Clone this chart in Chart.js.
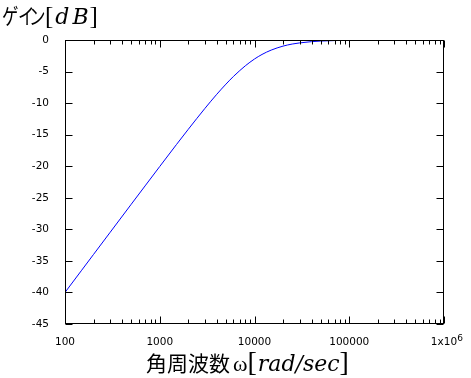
<!DOCTYPE html>
<html><head><meta charset="utf-8">
<script src="https://cdn.jsdelivr.net/npm/chart.js@4.4.0/dist/chart.umd.min.js"></script>
<style>html,body{margin:0;padding:0;background:#fff;}canvas{display:block;}</style>
</head><body>
<canvas id="c" width="471" height="378"></canvas>
<script>
// angular frequency ω [rad/sec]
const omega = [100,150,200,300,500,700,1000,1500,2000,3000,4000,5000,6000,7000,8000,10000,12000,15000,20000,25000,30000,40000,50000,70000,100000,200000,1000000];
// gain [dB]
const gain  = [-40.00,-36.48,-33.98,-30.46,-26.03,-23.12,-20.04,-16.57,-14.15,-10.83,-8.60,-6.99,-5.77,-4.84,-4.09,-3.01,-2.29,-1.60,-0.97,-0.64,-0.46,-0.26,-0.17,-0.09,-0.04,-0.01,0.00];
const xTicks = [100,200,300,400,500,600,700,800,900,1000,2000,3000,4000,5000,6000,7000,8000,9000,10000,20000,30000,40000,50000,60000,70000,80000,90000,100000,200000,300000,400000,500000,600000,700000,800000,900000,1000000];
const xMajorLabels = {100:'100',1000:'1000',10000:'10000',100000:'100000',1000000:'1x10'};
const lastExponent = '6';
const yTicks = [0,-5,-10,-15,-20,-25,-30,-35,-40,-45];
const tickFont = {family:'DejaVu Sans',size:10.5};

const frame = {
  id:'frame',
  afterDraw(chart){
    const ctx = chart.ctx, a = chart.chartArea;
    const xs = chart.scales.x, ys = chart.scales.y;
    ctx.save();
    ctx.strokeStyle = '#000'; ctx.lineWidth = 1;
    const L = Math.round(a.left)+0.5, R = Math.round(a.right)-0.5, T = Math.round(a.top)+0.5, B = Math.round(a.bottom)-0.5;
    ctx.strokeRect(L, T, R-L, B-T);
    ctx.beginPath();
    xTicks.forEach(v=>{
      const px = Math.round(xs.getPixelForValue(v))+0.5;
      const len = xMajorLabels[v] ? 7 : 4;
      ctx.moveTo(px,B); ctx.lineTo(px,B-len);
      ctx.moveTo(px,T); ctx.lineTo(px,T+len);
    });
    yTicks.forEach(v=>{
      const py = Math.round(ys.getPixelForValue(v))+0.5;
      ctx.moveTo(L,py); ctx.lineTo(L+7,py);
      ctx.moveTo(R,py); ctx.lineTo(R-7,py);
    });
    ctx.stroke();
    // exponent on last x label
    ctx.fillStyle = '#000';
    ctx.font = tickFont.size+'px '+tickFont.family;
    const wl = ctx.measureText(xMajorLabels[1000000]).width;
    ctx.font = '9px '+tickFont.family;
    ctx.textBaseline = 'alphabetic';
    ctx.fillText(lastExponent, xs.getPixelForValue(1000000)+wl/2, 341);
    // helpers
    let x = 3, y = 24;
    const seg = (t,f,sx)=>{
      ctx.font=f;
      const w = ctx.measureText(t).width*(sx||1);
      ctx.save(); ctx.translate(x,y); ctx.scale(sx||1,1); ctx.fillText(t,0,0); ctx.restore();
      x += w;
    };
    const spaced = (t,f,gap)=>{ for (const ch of t){ seg(ch,f); x += gap; } x -= gap; };
    // y axis title
    y = 24;
    x = 2;  seg('ゲ','22px "Noto Sans CJK JP"',0.75);
    x = 18; seg('イ','22px "Noto Sans CJK JP"',0.75);
    x = 29; seg('ン','22px "Noto Sans CJK JP"',0.75);
    x = 45;
    seg('[','25px "Liberation Serif"');
    x += 2;
    spaced('dB','italic 22px "DejaVu Serif"',3);
    x += 1;
    seg(']','25px "Liberation Serif"');
    // x axis title
    x = 146; y = 371;
    seg('角周波数','21px "Noto Sans CJK JP"');
    x += 3;
    seg('\u03c9','22px "Liberation Serif"');
    seg('[','28px "Liberation Serif"');
    x += 1;
    seg('rad/sec','italic 22px "DejaVu Serif"');
    seg(']','28px "Liberation Serif"');
    ctx.restore();
  }
};

new Chart(document.getElementById('c'),{
  type:'line',
  data:{datasets:[{data:omega.map((w,i)=>({x:w,y:gain[i]})),borderColor:'#0000ff',borderWidth:1,pointRadius:0,cubicInterpolationMode:'monotone',fill:false}]},
  options:{
    responsive:false,animation:false,
    layout:{padding:{top:40,right:27,left:0,bottom:0}},
    plugins:{legend:{display:false},tooltip:{enabled:false}},
    scales:{
      x:{type:'logarithmic',min:100,max:1000000,
        afterBuildTicks(s){s.ticks = xTicks.map(v=>({value:v}));},
        afterFit(s){s.height = 54;},
        grid:{display:false},border:{display:false},
        ticks:{autoSkip:false,maxRotation:0,padding:4,color:'#000',font:tickFont,
          callback:(v)=>xMajorLabels[v]||''}},
      y:{type:'linear',min:-45,max:0,
        afterBuildTicks(s){s.ticks = yTicks.map(v=>({value:v}));},
        afterFit(s){s.width = 65;},
        grid:{display:false},border:{display:false},
        ticks:{padding:8,color:'#000',font:tickFont,callback:(v)=>String(v)}}
    }
  },
  plugins:[frame]
});
</script>
</body></html>
